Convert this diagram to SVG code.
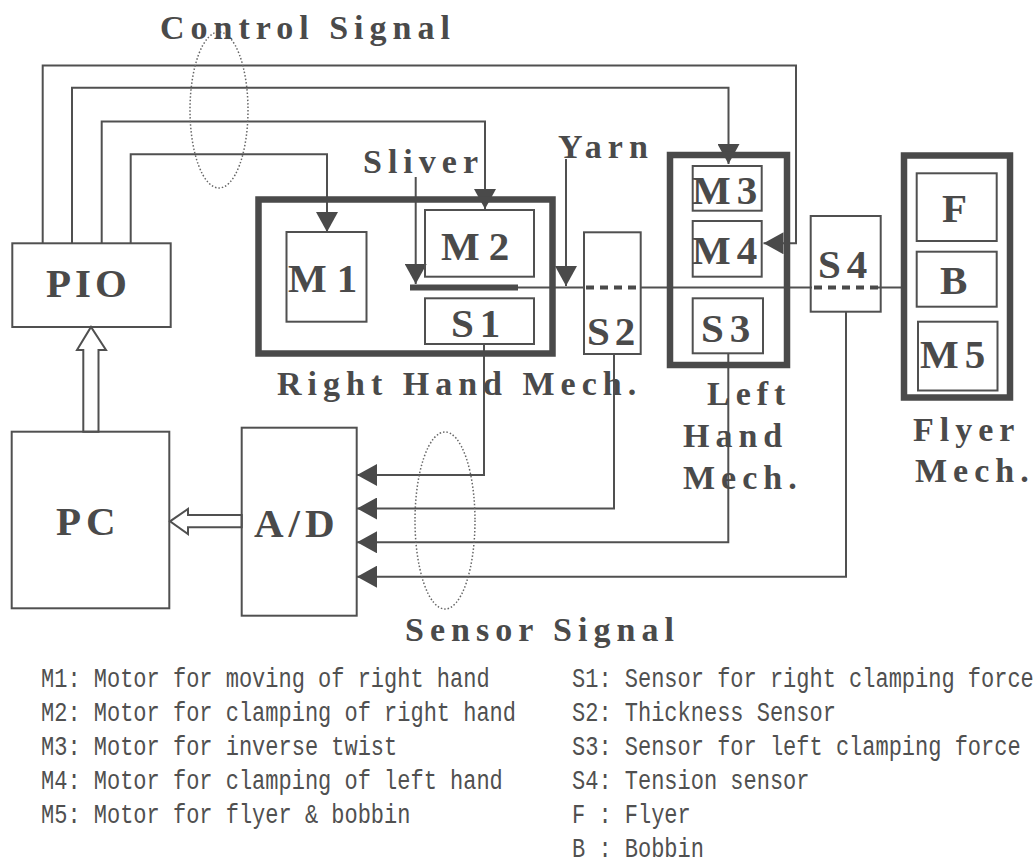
<svg xmlns="http://www.w3.org/2000/svg" width="1036" height="866" viewBox="0 0 1036 866">
<style>
.bx{fill:none;stroke:#505050;stroke-width:2}
.thk{fill:none;stroke:#4a4a4a;stroke-width:6.5}
.ln{fill:none;stroke:#505050;stroke-width:2}
.lb{font-family:"Liberation Serif","Times New Roman",serif;font-weight:bold;font-size:41px;letter-spacing:7px;fill:#4a4a4a}
.tl{font-family:"Liberation Serif","Times New Roman",serif;font-weight:bold;font-size:34px;letter-spacing:6px;fill:#4a4a4a}
.lg{font-family:"Liberation Mono","Courier New",monospace;font-size:27px;fill:#505050}
.dot{fill:none;stroke:#666;stroke-width:1.5;stroke-dasharray:1.5 2}
.hol{fill:#fff;stroke:#505050;stroke-width:2}
</style>
<defs>
<marker id="ah" viewBox="0 0 20 22" refX="20" refY="11" markerWidth="20" markerHeight="22" markerUnits="userSpaceOnUse" orient="auto">
<path d="M0,0 L20,11 L0,22 z" fill="#4a4a4a"/>
</marker>
</defs>
<rect width="1036" height="866" fill="#fff"/>

<g id="connectors">
<path class="ln" d="M42.7,243.3 V65.5 H796 V243.3 H763.5" marker-end="url(#ah)"/>
<path class="ln" d="M72,243.3 V87.7 H728.5 V164" marker-end="url(#ah)"/>
<path class="ln" d="M101.7,243.3 V121.5 H485 V209" marker-end="url(#ah)"/>
<path class="ln" d="M130.7,243.3 V154.3 H327 V232" marker-end="url(#ah)"/>
<path class="ln" d="M415.7,177 V284" marker-end="url(#ah)"/>
<path class="ln" d="M566,159 V286" marker-end="url(#ah)"/>
<path class="ln" d="M484,344 V475 H357" marker-end="url(#ah)"/>
<path class="ln" d="M614,354 V508.5 H357" marker-end="url(#ah)"/>
<path class="ln" d="M728.3,353.5 V542.3 H357" marker-end="url(#ah)"/>
<path class="ln" d="M846,311.7 V576.7 H357" marker-end="url(#ah)"/>
<polygon class="hol" points="83.3,431.7 83.3,350 77,350 91,327 106,350 98.5,350 98.5,431.7"/>
<polygon class="hol" points="241.7,515 188,515 188,509 170,521.3 188,534 188,527.3 241.7,527.3"/>
<line x1="410" y1="287.5" x2="518" y2="287.5" stroke="#4a4a4a" stroke-width="6"/>
<path class="ln" d="M518,287.5 H584 M640.7,287.5 H812 M878,287.5 H904" stroke-width="2.5"/>
<line x1="584" y1="287.5" x2="640" y2="287.5" stroke="#4a4a4a" stroke-width="4" stroke-dasharray="8 6" stroke-dashoffset="-2"/>
<line x1="812" y1="287.5" x2="878" y2="287.5" stroke="#4a4a4a" stroke-width="4" stroke-dasharray="8 6" stroke-dashoffset="-2"/>
<ellipse class="dot" cx="219" cy="110" rx="29" ry="78"/>
<ellipse class="dot" cx="445" cy="520.5" rx="30" ry="88.5"/>
</g>

<g id="titles">
<text class="tl" x="160" y="39">Control Signal</text>
<text class="tl" x="405" y="641">Sensor Signal</text>
<text class="tl" x="363" y="173">Sliver</text>
<text class="tl" x="558" y="158">Yarn</text>
</g>

<g id="PIO">
<rect class="bx" x="12.3" y="243.3" width="158.4" height="83.7"/>
<text class="lb" x="46" y="297" style="letter-spacing:4px">PIO</text>
</g>
<g id="PC">
<rect class="bx" x="11.7" y="431.7" width="157.6" height="176.6"/>
<text class="lb" x="56" y="535" style="letter-spacing:5px">PC</text>
</g>
<g id="AD">
<rect class="bx" x="241.7" y="427.7" width="115" height="188"/>
<text class="lb" x="254" y="537" style="letter-spacing:5px">A/D</text>
</g>

<g id="right-hand-mech">
<rect class="thk" x="258.5" y="199.5" width="294" height="154"/>
<text class="tl" x="277" y="395">Right Hand Mech.</text>
</g>
<g id="M1">
<rect class="bx" x="286.5" y="232" width="80" height="89.7"/>
<text class="lb" x="288" y="292" style="letter-spacing:10px">M1</text>
</g>
<g id="M2">
<rect class="bx" x="425" y="210" width="109" height="66.7"/>
<text class="lb" x="441" y="260" style="letter-spacing:9px">M2</text>
</g>
<g id="S1">
<rect class="bx" x="425" y="298.3" width="109" height="45.7"/>
<text class="lb" x="451" y="337" style="letter-spacing:6px">S1</text>
</g>
<g id="S2">
<rect class="bx" x="584" y="232.3" width="56.7" height="121.7"/>
<text class="lb" x="587" y="345" style="letter-spacing:5px">S2</text>
</g>

<g id="left-hand-mech">
<rect class="thk" x="670" y="155" width="117" height="210"/>
<text class="tl" x="707" y="405">Left</text>
<text class="tl" x="683" y="447">Hand</text>
<text class="tl" x="683" y="489">Mech.</text>
</g>
<g id="M3">
<rect class="bx" x="692.7" y="166" width="69" height="44.7"/>
<text class="lb" x="692" y="204" style="letter-spacing:6px">M3</text>
</g>
<g id="M4">
<rect class="bx" x="692.7" y="221" width="69" height="55.7"/>
<text class="lb" x="692" y="264" style="letter-spacing:6px">M4</text>
</g>
<g id="S3">
<rect class="bx" x="692.7" y="298.3" width="70.3" height="55"/>
<text class="lb" x="701" y="342" style="letter-spacing:6px">S3</text>
</g>
<g id="S4">
<rect class="bx" x="810.7" y="216" width="70" height="95.7"/>
<text class="lb" x="818" y="278" style="letter-spacing:6px">S4</text>
</g>

<g id="flyer-mech">
<rect class="thk" x="904" y="155.5" width="106" height="242" stroke-width="8"/>
<text class="tl" x="913" y="441">Flyer</text>
<text class="tl" x="915" y="482">Mech.</text>
</g>
<g id="F">
<rect class="bx" x="916.7" y="173.3" width="80" height="67.7" stroke-width="1.5"/>
<text class="lb" x="942" y="222">F</text>
</g>
<g id="B">
<rect class="bx" x="916.7" y="251.7" width="80" height="55" stroke-width="1.5"/>
<text class="lb" x="940" y="294">B</text>
</g>
<g id="M5">
<rect class="bx" x="918" y="321.7" width="79.5" height="68.8" stroke-width="2.5"/>
<text class="lb" x="920" y="368" style="letter-spacing:6px">M5</text>
</g>

<g id="legend">
<g transform="translate(41 0) scale(0.815 1)">
<text class="lg" x="0" y="687">M1: Motor for moving of right hand</text>
<text class="lg" x="0" y="721">M2: Motor for clamping of right hand</text>
<text class="lg" x="0" y="755">M3: Motor for inverse twist</text>
<text class="lg" x="0" y="789">M4: Motor for clamping of left hand</text>
<text class="lg" x="0" y="823">M5: Motor for flyer &amp; bobbin</text>
</g>
<g transform="translate(572 0) scale(0.815 1)">
<text class="lg" x="0" y="687">S1: Sensor for right clamping force</text>
<text class="lg" x="0" y="721">S2: Thickness Sensor</text>
<text class="lg" x="0" y="755">S3: Sensor for left clamping force</text>
<text class="lg" x="0" y="789">S4: Tension sensor</text>
<text class="lg" x="0" y="823">F : Flyer</text>
<text class="lg" x="0" y="857">B : Bobbin</text>
</g>
</g>
</svg>
